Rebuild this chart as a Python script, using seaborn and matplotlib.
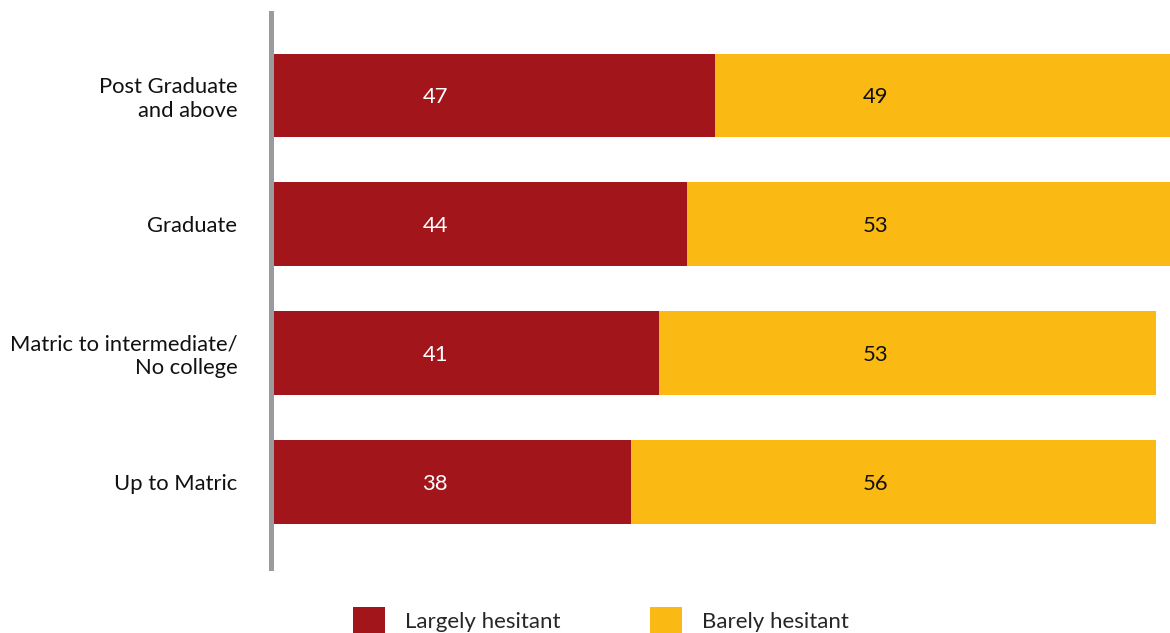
import matplotlib
matplotlib.use("Agg")
import matplotlib.pyplot as plt
import seaborn as sns
import pandas as pd
from matplotlib.patches import Patch

categories = ["Post Graduate\nand above", "Graduate", "Matric to intermediate/\nNo college", "Up to Matric"]
largely = [47, 44, 41, 38]
barely = [49, 53, 53, 56]
series_names = ["Largely hesitant", "Barely hesitant"]

RED = "#A2151B"
YELLOW = "#FBB913"
GRAY = "#9B9A9F"

sns.set_theme(style="white")
plt.rcParams["font.family"] = ["Lato", "DejaVu Sans"]

df = pd.DataFrame({"cat": categories, "largely": largely, "barely": barely})
df["total"] = df["largely"] + df["barely"]

fig = plt.figure(figsize=(11.7, 6.33), dpi=100)
ax = fig.add_axes([274/1170, (633-568)/633, 1 - 274/1170, (568-13)/633])

sns.barplot(data=df, x="total", y="cat", color=YELLOW, width=0.65, ax=ax, saturation=1, linewidth=0)
sns.barplot(data=df, x="largely", y="cat", color=RED, width=0.65, ax=ax, saturation=1, linewidth=0)

ax.set_xlim(0, 95.5)
ax.set_ylim(3.67, -0.64)
ax.set_xlabel("")
ax.set_ylabel("")
ax.set_xticks([])
for s in ["top", "right", "bottom"]:
    ax.spines[s].set_visible(False)
ax.spines["left"].set_color(GRAY)
ax.spines["left"].set_linewidth(3.6)
ax.spines["left"].set_position(("outward", 1.9))
ax.tick_params(axis="y", length=0, pad=24.5, labelsize=15.8, labelcolor="#111111")

for i, (l, b) in enumerate(zip(largely, barely)):
    ax.text(17.2, i + 0.015, str(l), color="white", ha="center", va="center", fontsize=15.8)
    ax.text(64.1, i + 0.015, str(b), color="#111111", ha="center", va="center", fontsize=15.8)

handles = [Patch(facecolor=RED, edgecolor="none"), Patch(facecolor=YELLOW, edgecolor="none")]
fig.legend(handles, series_names, loc="upper left", bbox_to_anchor=(353/1170, 1 - 607/633),
           ncol=2, frameon=False, fontsize=16, handlelength=1.45, handleheight=1.45,
           handletextpad=0.9, columnspacing=4.0, borderpad=0, borderaxespad=0)

fig.savefig("out.png", dpi=100)
